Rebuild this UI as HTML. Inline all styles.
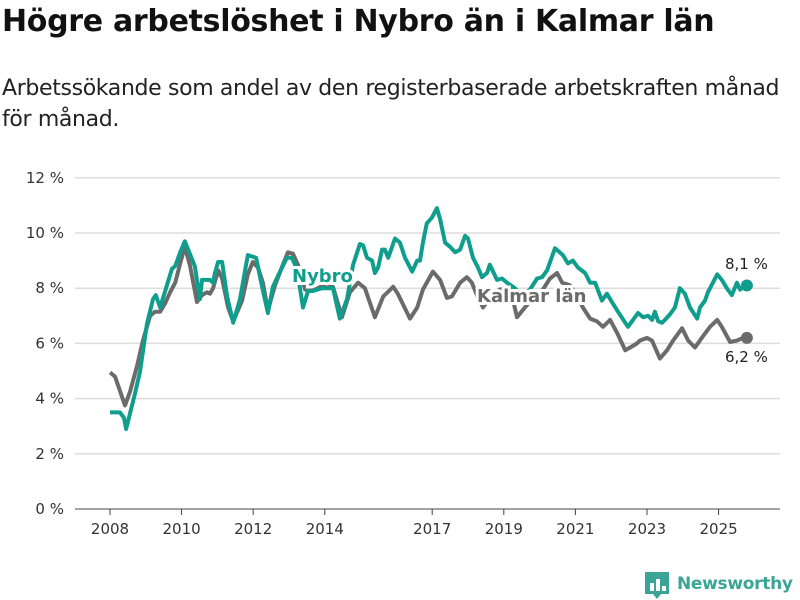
<!DOCTYPE html>
<html><head><meta charset="utf-8">
<style>
body{margin:0;background:#fff;width:800px;height:600px;overflow:hidden;font-family:"Liberation Sans","DejaVu Sans",sans-serif;}
#title{position:absolute;left:2px;top:4px;font-size:30px;font-weight:bold;color:#111;font-family:"DejaVu Sans","Liberation Sans",sans-serif;letter-spacing:-0.3px;margin:0}
#sub{position:absolute;left:2px;top:73px;width:795px;font-size:22px;line-height:31px;color:#222;font-family:"DejaVu Sans","Liberation Sans",sans-serif;letter-spacing:-0.35px}
svg{position:absolute;left:0;top:0}
</style></head><body>
<h1 id="title">Högre arbetslöshet i Nybro än i Kalmar län</h1>
<div id="sub">Arbetssökande som andel av den registerbaserade arbetskraften månad för månad.</div>
<svg id="chart" width="800" height="600"></svg>
<script>
const yTicks=[0,2,4,6,8,10,12];
const yTickLabels=["0 %","2 %","4 %","6 %","8 %","10 %","12 %"];
const xTicks=[2008,2010,2012,2014,2017,2019,2021,2023,2025];
const nybroDates=[2008.00,2008.28,2008.39,2008.45,2008.70,2008.84,2009.03,2009.20,2009.28,2009.40,2009.59,2009.73,2009.82,2009.96,2010.09,2010.37,2010.51,2010.57,2010.79,2010.88,2010.93,2011.02,2011.13,2011.27,2011.44,2011.63,2011.85,2012.08,2012.25,2012.41,2012.55,2012.75,2012.94,2013.08,2013.22,2013.39,2013.53,2013.67,2013.92,2014.23,2014.42,2014.62,2014.79,2014.98,2015.07,2015.18,2015.32,2015.40,2015.49,2015.60,2015.68,2015.77,2015.96,2016.10,2016.24,2016.44,2016.58,2016.66,2016.74,2016.85,2016.99,2017.13,2017.22,2017.36,2017.50,2017.64,2017.78,2017.92,2018.00,2018.14,2018.28,2018.39,2018.53,2018.61,2018.70,2018.81,2018.95,2019.09,2019.31,2019.51,2019.73,2019.93,2020.07,2020.21,2020.43,2020.65,2020.79,2020.93,2021.07,2021.27,2021.41,2021.55,2021.74,2021.88,2022.02,2022.19,2022.39,2022.47,2022.61,2022.75,2022.89,2023.03,2023.14,2023.22,2023.31,2023.42,2023.50,2023.64,2023.78,2023.92,2024.06,2024.20,2024.40,2024.48,2024.62,2024.70,2024.84,2024.96,2025.09,2025.23,2025.37,2025.51,2025.60,2025.71,2025.79];
const nybroValues=[3.5,3.5,3.3,2.9,4.2,5.0,6.7,7.6,7.75,7.3,8.1,8.7,8.8,9.3,9.7,8.8,7.6,8.3,8.3,8.2,8.55,8.95,8.95,7.7,6.75,7.6,9.2,9.1,8.05,7.1,8.05,8.6,9.1,9.1,8.7,7.3,7.9,7.9,8.0,8.0,6.9,7.6,8.85,9.6,9.55,9.1,9.0,8.55,8.75,9.4,9.4,9.1,9.8,9.65,9.1,8.6,9.0,9.0,9.65,10.35,10.55,10.9,10.5,9.65,9.5,9.3,9.4,9.9,9.8,9.1,8.75,8.4,8.55,8.85,8.6,8.3,8.35,8.2,8.0,7.7,7.95,8.35,8.4,8.65,9.45,9.2,8.9,9.0,8.75,8.55,8.2,8.2,7.55,7.8,7.5,7.15,6.75,6.6,6.85,7.1,6.95,7.0,6.85,7.15,6.8,6.75,6.85,7.05,7.3,8.0,7.8,7.3,6.9,7.3,7.55,7.85,8.2,8.5,8.3,8.0,7.75,8.2,7.95,8.05,8.1];
const kalmarDates=[2008.00,2008.14,2008.42,2008.56,2008.75,2008.92,2009.12,2009.26,2009.40,2009.54,2009.68,2009.82,2009.96,2010.09,2010.23,2010.43,2010.57,2010.71,2010.79,2010.88,2011.02,2011.13,2011.30,2011.44,2011.69,2011.85,2011.99,2012.13,2012.27,2012.41,2012.61,2012.80,2012.97,2013.11,2013.25,2013.45,2013.73,2013.95,2014.23,2014.48,2014.70,2014.93,2015.12,2015.40,2015.63,2015.91,2016.04,2016.38,2016.58,2016.74,2017.02,2017.22,2017.41,2017.55,2017.78,2017.97,2018.11,2018.25,2018.42,2018.61,2018.89,2019.17,2019.37,2019.59,2019.82,2020.09,2020.29,2020.49,2020.63,2020.85,2021.04,2021.21,2021.41,2021.60,2021.77,2021.97,2022.16,2022.39,2022.53,2022.72,2022.80,2023.00,2023.14,2023.36,2023.56,2023.73,2023.98,2024.15,2024.34,2024.56,2024.76,2024.96,2025.09,2025.32,2025.51,2025.68,2025.79];
const kalmarValues=[4.95,4.8,3.75,4.25,5.15,6.1,7.0,7.15,7.15,7.45,7.85,8.2,8.9,9.5,8.85,7.5,7.75,7.85,7.8,8.0,8.65,8.35,7.3,6.8,7.55,8.5,8.95,8.75,8.2,7.2,8.1,8.75,9.3,9.25,8.85,7.95,7.95,8.1,8.05,6.95,7.85,8.2,8.0,6.95,7.7,8.05,7.8,6.9,7.3,7.95,8.6,8.3,7.65,7.7,8.2,8.4,8.2,7.75,7.3,7.65,7.95,8.05,6.95,7.3,7.65,7.95,8.35,8.55,8.2,8.1,7.75,7.3,6.9,6.8,6.6,6.85,6.4,5.75,5.85,6.0,6.1,6.2,6.1,5.45,5.75,6.1,6.55,6.1,5.85,6.25,6.6,6.85,6.6,6.05,6.1,6.2,6.2];
const endLabels=["8,1 %","6,2 %"];

const NS="http://www.w3.org/2000/svg";
const svg=document.getElementById('chart');
const X0=110,PXY=35.8,Y0=509,PXV=27.6;
const xs=t=>X0+(t-2008)*PXY;
const ys=v=>Y0-v*PXV;
function mk(tag,at){const e=document.createElementNS(NS,tag);for(const k in at)e.setAttribute(k,at[k]);svg.appendChild(e);return e;}
yTicks.forEach((v,i)=>{
  const l=mk('line',{x1:75,x2:780,y1:ys(v),y2:ys(v),stroke:v===0?'#444':'#ddd','stroke-width':v===0?1:1.5});
  
  
  const t=mk('text',{x:64,y:ys(v)+5,'text-anchor':'end','font-size':15,fill:'#333','font-family':'DejaVu Sans, Liberation Sans, sans-serif'});
  t.textContent=yTickLabels[i];
  
  
});
xTicks.forEach(y=>{
  const l=mk('line',{x1:xs(y),x2:xs(y),y1:Y0,y2:Y0+6,stroke:'#444','stroke-width':1});
  
  
  const t=mk('text',{x:xs(y),y:Y0+25,'text-anchor':'middle','font-size':15,fill:'#333','font-family':'DejaVu Sans, Liberation Sans, sans-serif'});
  t.textContent=y;
  
  
});
function path(d,v){return d.map((t,i)=>(i?'L':'M')+xs(t).toFixed(1)+','+ys(v[i]).toFixed(1)).join('');}
const kp=mk('path',{d:path(kalmarDates,kalmarValues),fill:'none',stroke:'#6b6b6b','stroke-width':4,'stroke-linejoin':'round'});


const np=mk('path',{d:path(nybroDates,nybroValues),fill:'none',stroke:'#0f9e8e','stroke-width':4,'stroke-linejoin':'round'});


const kd=mk('circle',{cx:xs(kalmarDates[kalmarDates.length-1]),cy:ys(kalmarValues[kalmarValues.length-1]),r:6,fill:'#6b6b6b'});


const nd=mk('circle',{cx:xs(nybroDates[nybroDates.length-1]),cy:ys(nybroValues[nybroValues.length-1]),r:6,fill:'#0f9e8e'});


function label(txt,x,y,col,size,bold,name){
  const t=mk('text',{x:x,y:y,'font-size':size,fill:col,'font-weight':bold?'bold':'normal',stroke:'#fff','stroke-width':bold?6:0,'paint-order':'stroke','font-family':'DejaVu Sans, Liberation Sans, sans-serif'});
  t.textContent=txt;
  
  
}
label('Nybro',292,282,'#0f9e8e',18,true,'nybro-label');
label('Kalmar län',477,302,'#6b6b6b',18,true,'kalmar-label');
label(endLabels[0],725,269,'#222',15,false,'nybro-end-value');
label(endLabels[1],725,362,'#222',15,false,'kalmar-end-value');
// logo
const g=mk('g',{});


const r=document.createElementNS(NS,'path');
r.setAttribute('d','M645,572 h24 v22 h-8 l-4,5 l-4,-5 h-8 z');
r.setAttribute('fill','#3aa597');
g.appendChild(r);
[[650,8],[656,12],[662,5]].forEach(([x,h])=>{const b=document.createElementNS(NS,'rect');b.setAttribute('x',x);b.setAttribute('y',591-h);b.setAttribute('width',4);b.setAttribute('height',h);b.setAttribute('fill','#fff');g.appendChild(b);});
const lt=document.createElementNS(NS,'text');
lt.setAttribute('x',677);lt.setAttribute('y',589);lt.setAttribute('font-size',17);lt.setAttribute('font-weight','bold');lt.setAttribute('fill','#3aa597');lt.setAttribute('letter-spacing','-0.3');lt.setAttribute('font-family','DejaVu Sans, Liberation Sans, sans-serif');
lt.textContent='Newsworthy';
g.appendChild(lt);
</script>
</body></html>
